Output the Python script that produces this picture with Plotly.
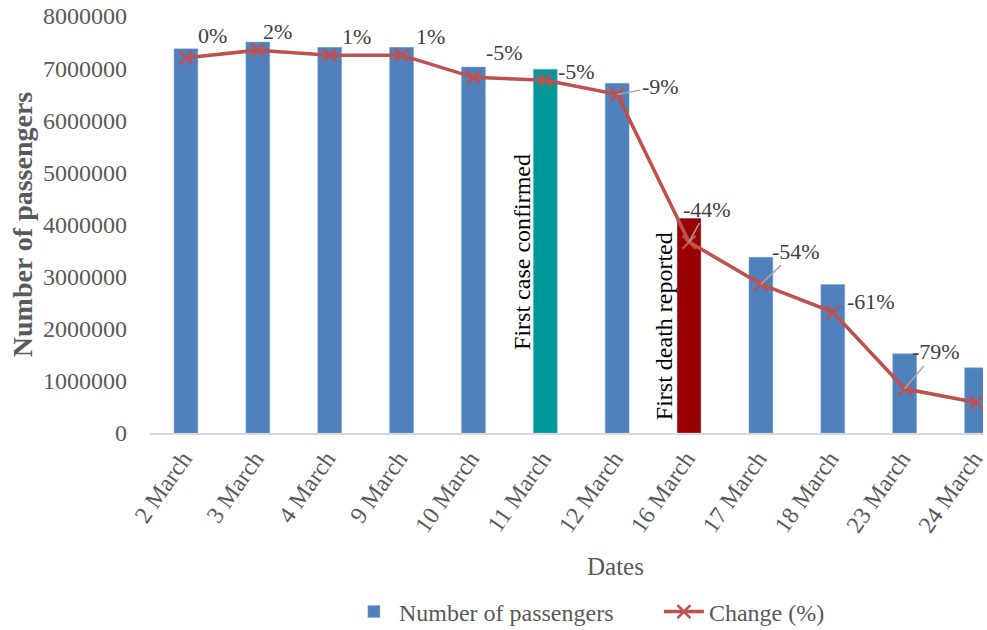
import plotly.graph_objects as go

dates = ["2 March", "3 March", "4 March", "9 March", "10 March", "11 March",
         "12 March", "16 March", "17 March", "18 March", "23 March", "24 March"]
passengers = [7370000, 7500000, 7400000, 7400000, 7020000, 6980000,
              6710000, 4120000, 3370000, 2850000, 1520000, 1250000]
change_pct = [0.0, 1.8, 0.6, 0.6, -4.7, -5.4, -8.8, -44.2, -54.3, -61.0, -79.4, -82.7]
change_labels = ["0%", "2%", "1%", "1%", "-5%", "-5%", "-9%", "-44%", "-54%", "-61%", "-79%", ""]
y_ticks = [0, 1000000, 2000000, 3000000, 4000000, 5000000, 6000000, 7000000, 8000000]

BLUE = "#4F81BD"
TEAL = "#009999"
DARKRED = "#990000"
LINE = "#C0504D"
FONT = "Liberation Serif, Times New Roman, serif"
GREY = "#595959"

bar_colors = [BLUE] * len(dates)
bar_colors[dates.index("11 March")] = TEAL
bar_colors[dates.index("16 March")] = DARKRED

fig = go.Figure()
fig.add_trace(go.Bar(
    x=dates, y=passengers, name="Number of passengers",
    marker=dict(color=bar_colors, line=dict(color="#7FA6D6", width=0.5)),
    yaxis="y",
))
fig.add_trace(go.Scatter(
    x=dates, y=change_pct, name="Change (%)", mode="lines+markers",
    line=dict(color=LINE, width=3.5),
    marker=dict(symbol="x-thin", size=13, line=dict(color=LINE, width=2.5)),
    yaxis="y2",
))

# data label offsets (pixels) relative to the point; leader = drawn with arrow
label_offsets = {
    "2 March": (27, -22, False),
    "3 March": (20, -19, False),
    "4 March": (27, -19, False),
    "9 March": (29, -19, False),
    "10 March": (31, -25, False),
    "11 March": (31, -9, False),
    "12 March": (43, -8, True),
    "16 March": (18, -33, True),
    "17 March": (35, -33, True),
    "18 March": (38, -11, False),
    "23 March": (31, -37, True),
}
for d, v, lab in zip(dates, change_pct, change_labels):
    if not lab or d not in label_offsets:
        continue
    dx, dy, leader = label_offsets[d]
    if leader:
        fig.add_annotation(x=d, y=v, yref="y2", text=lab, showarrow=True,
                           arrowhead=0, arrowwidth=1.5, arrowcolor="#A6A6A6",
                           ax=dx, ay=dy, standoff=0,
                           font=dict(family=FONT, size=22, color="#404040"))
    else:
        fig.add_annotation(x=d, y=v, yref="y2", text=lab, showarrow=False,
                           xshift=dx, yshift=-dy,
                           font=dict(family=FONT, size=22, color="#404040"))

fig.add_annotation(x="11 March", y=3470000, yref="y", text="First case confirmed",
                   textangle=-90, showarrow=False, xshift=-23.5,
                   font=dict(family=FONT, size=24, color="#000000"))
fig.add_annotation(x="16 March", y=2050000, yref="y", text="First death reported",
                   textangle=-90, showarrow=False, xshift=-25,
                   font=dict(family=FONT, size=24, color="#000000"))

# x-axis title (centred on the original, wider plot area)
fig.add_annotation(xref="paper", yref="paper", x=0.559, y=0, yshift=-133,
                   xanchor="center", yanchor="middle", text="Dates", showarrow=False,
                   font=dict(family=FONT, size=25, color=GREY))

fig.update_layout(
    width=987, height=630,
    margin=dict(l=150, r=0, t=16, b=197),
    paper_bgcolor="white", plot_bgcolor="white",
    bargap=0.668,
    font=dict(family=FONT, size=24, color=GREY),
    showlegend=True,
    legend=dict(orientation="h", xref="container", yref="container",
                x=0.3535, xanchor="left", y=0.0286, yanchor="middle",
                font=dict(family=FONT, size=24, color=GREY),
                itemwidth=40, entrywidth=255, entrywidthmode="pixels"),
    xaxis=dict(
        type="category", range=[-0.5, 11.09],
        tickangle=-55, showgrid=False, showline=True, linecolor="#D9D9D9",
        linewidth=2, ticks="", tickfont=dict(family=FONT, size=24, color=GREY),
        ticklabelshift=-3,
    ),
    yaxis=dict(
        range=[0, 8000000], tickvals=y_ticks, ticktext=[str(t) for t in y_ticks],
        showgrid=False, zeroline=False, showline=False, ticks="",
        tickfont=dict(family=FONT, size=24, color=GREY), ticklabelstandoff=22,
        title=dict(text="<b>Number of passengers</b>", font=dict(family=FONT, size=28, color=GREY), standoff=2),
    ),
    yaxis2=dict(
        range=[-90, 10], overlaying="y", side="right", visible=False,
        showgrid=False, zeroline=False,
    ),
)

fig.write_html("out.html", config={"displayModeBar": False},
               post_script="document.body.style.margin='0px';")
